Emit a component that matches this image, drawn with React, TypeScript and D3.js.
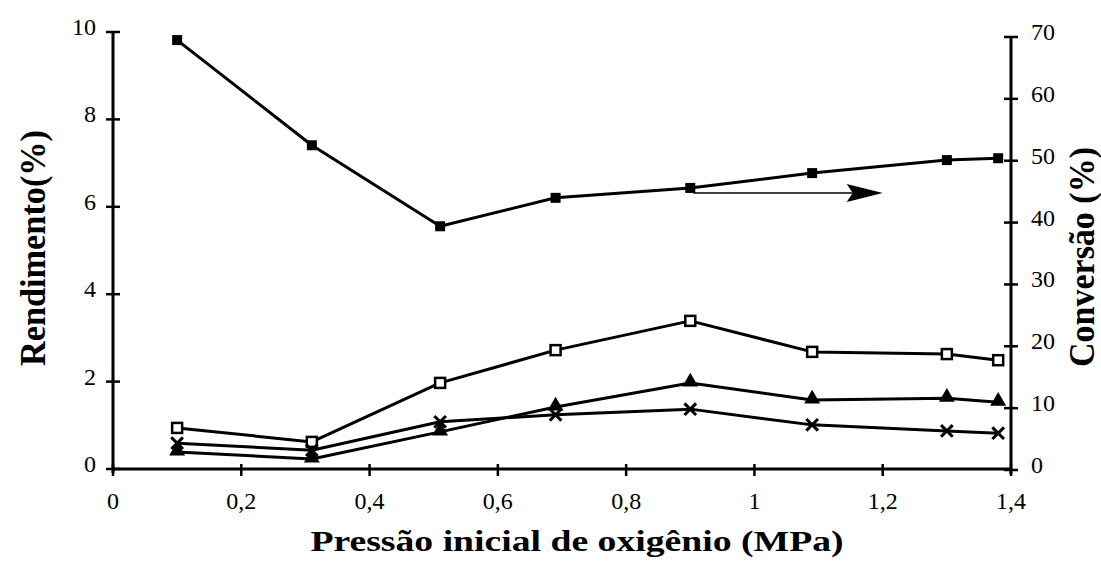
import { useEffect, useRef } from 'react';
import * as d3 from 'd3';

// pressão inicial de oxigênio (MPa)
const pressures = [0.1, 0.31, 0.51, 0.69, 0.9, 1.09, 1.3, 1.38];

// conversão (%) - eixo da direita
const conversion = [69.5, 52.5, 39.4, 44.0, 45.6, 48.0, 50.1, 50.4];

// rendimentos (%) - eixo da esquerda
const yieldSquare = [0.94, 0.62, 1.97, 2.72, 3.39, 2.68, 2.63, 2.49];
const yieldTriangle = [0.39, 0.23, 0.85, 1.42, 1.97, 1.58, 1.62, 1.53];
const yieldCross = [0.59, 0.43, 1.08, 1.24, 1.37, 1.01, 0.87, 0.82];

const xTicks = [0, 0.2, 0.4, 0.6, 0.8, 1, 1.2, 1.4];
const leftTicks = [0, 2, 4, 6, 8, 10];
const rightTicks = [0, 10, 20, 30, 40, 50, 60, 70];

// seta indicando o eixo da conversão
const arrowFrom = 0.9;
const arrowTo = 1.2;
const arrowLevel = 44.8;

const W = 1101;
const H = 568;
const FONT = '"Liberation Serif", "Times New Roman", serif';

export default function App() {
  const svgRef = useRef<SVGSVGElement>(null);

  useEffect(() => {
    if (!svgRef.current) return;
    const svg = d3.select(svgRef.current);
    svg.selectAll('*').remove();

    const x = d3.scaleLinear().domain([0, 1.4]).range([113, 1011]);
    const yL = d3.scaleLinear().domain([0, 10]).range([469, 32]);
    const yR = d3.scaleLinear().domain([0, 70]).range([470, 37]);

    const g = svg.append('g');

    // eixos
    const axis = g.append('g').attr('stroke', '#000').attr('stroke-width', 3);
    axis.append('line')
      .attr('x1', x(0)).attr('x2', x(1.4))
      .attr('y1', yL(0)).attr('y2', yL(0));
    axis.append('line')
      .attr('x1', x(0)).attr('x2', x(0))
      .attr('y1', yL(0) + 4).attr('y2', yL(10));
    axis.append('line')
      .attr('x1', x(1.4)).attr('x2', x(1.4))
      .attr('y1', yR(0) + 4).attr('y2', yR(70));

    // ticks
    axis.selectAll('.xt').data(xTicks).join('line')
      .attr('x1', (d) => x(d)).attr('x2', (d) => x(d))
      .attr('y1', yL(0) - 5).attr('y2', yL(0) + 7)
      .attr('stroke-width', 2.5);
    axis.selectAll('.lt').data(leftTicks).join('line')
      .attr('x1', x(0) - 7).attr('x2', x(0) + 7)
      .attr('y1', (d) => yL(d)).attr('y2', (d) => yL(d))
      .attr('stroke-width', 2.5);
    axis.selectAll('.rt').data(rightTicks).join('line')
      .attr('x1', x(1.4) - 7).attr('x2', x(1.4) + 7)
      .attr('y1', (d) => yR(d)).attr('y2', (d) => yR(d))
      .attr('stroke-width', 2.5);

    // rótulos dos ticks
    const labels = g.append('g').attr('font-family', FONT).attr('font-size', 24).attr('fill', '#000');
    labels.selectAll('.xl').data(xTicks).join('text')
      .attr('x', (d) => x(d)).attr('y', 509)
      .attr('text-anchor', 'middle')
      .text((d) => String(d).replace('.', ','));
    labels.selectAll('.ll').data(leftTicks).join('text')
      .attr('x', 96).attr('y', (d) => yL(d) + 3)
      .attr('text-anchor', 'end')
      .text((d) => d);
    labels.selectAll('.rl').data(rightTicks).join('text')
      .attr('x', 1031).attr('y', (d) => yR(d) + 3)
      .text((d) => d);

    // títulos
    const titles = g.append('g').attr('font-family', FONT).attr('font-size', 29)
      .attr('font-weight', 'bold').attr('fill', '#000').attr('text-anchor', 'middle');
    titles.append('text')
      .attr('transform', 'translate(577,551) scale(1.3,1)')
      .text('Pressão inicial de oxigênio (MPa)');
    titles.append('text')
      .attr('transform', 'translate(45,248) scale(1.2,1) rotate(-90)')
      .attr('textLength', 236)
      .attr('lengthAdjust', 'spacingAndGlyphs')
      .text('Rendimento(%)');
    titles.append('text')
      .attr('transform', 'translate(1094,257) scale(1.25,1) rotate(-90)')
      .attr('textLength', 220)
      .attr('lengthAdjust', 'spacingAndGlyphs')
      .text('Conversão (%)');

    // séries
    const drawLine = (vals: number[], y: d3.ScaleLinear<number, number>) => {
      const line = d3.line<number>()
        .x((_, i) => x(pressures[i]))
        .y((d) => y(d));
      g.append('path')
        .attr('d', line(vals))
        .attr('fill', 'none')
        .attr('stroke', '#000')
        .attr('stroke-width', 3)
        .attr('stroke-linejoin', 'round');
    };

    drawLine(conversion, yR);
    drawLine(yieldSquare, yL);
    drawLine(yieldTriangle, yL);
    drawLine(yieldCross, yL);

    // marcadores
    g.selectAll('.conv').data(conversion).join('rect')
      .attr('x', (_, i) => x(pressures[i]) - 5)
      .attr('y', (d) => yR(d) - 5)
      .attr('width', 10).attr('height', 10)
      .attr('fill', '#000');

    g.selectAll('.sq').data(yieldSquare).join('rect')
      .attr('x', (_, i) => x(pressures[i]) - 5)
      .attr('y', (d) => yL(d) - 5)
      .attr('width', 10).attr('height', 10)
      .attr('fill', '#fff').attr('stroke', '#000').attr('stroke-width', 2.5);

    const tri = d3.symbol().type(d3.symbolTriangle).size(110);
    g.selectAll('.tri').data(yieldTriangle).join('path')
      .attr('d', tri)
      .attr('transform', (d, i) => `translate(${x(pressures[i])},${yL(d) - 1})`)
      .attr('fill', '#000');

    const cross = d3.symbol().type(d3.symbolX).size(90);
    g.selectAll('.cr').data(yieldCross).join('path')
      .attr('d', cross)
      .attr('transform', (d, i) => `translate(${x(pressures[i])},${yL(d)})`)
      .attr('fill', 'none')
      .attr('stroke', '#000')
      .attr('stroke-width', 3);

    // seta
    const ay = yR(arrowLevel);
    g.append('line')
      .attr('x1', x(arrowFrom) + 3).attr('x2', x(arrowTo) - 30)
      .attr('y1', ay).attr('y2', ay)
      .attr('stroke', '#000').attr('stroke-width', 1.5);
    g.append('path')
      .attr('d', `M${x(arrowTo)},${ay} L${x(arrowTo) - 36},${ay - 9} L${x(arrowTo) - 30},${ay} L${x(arrowTo) - 36},${ay + 9} Z`)
      .attr('fill', '#000');
  }, []);

  return (
    <svg
      ref={svgRef}
      width={W}
      height={H}
      style={{ position: 'absolute', left: 0, top: 0, background: '#fff' }}
    />
  );
}
